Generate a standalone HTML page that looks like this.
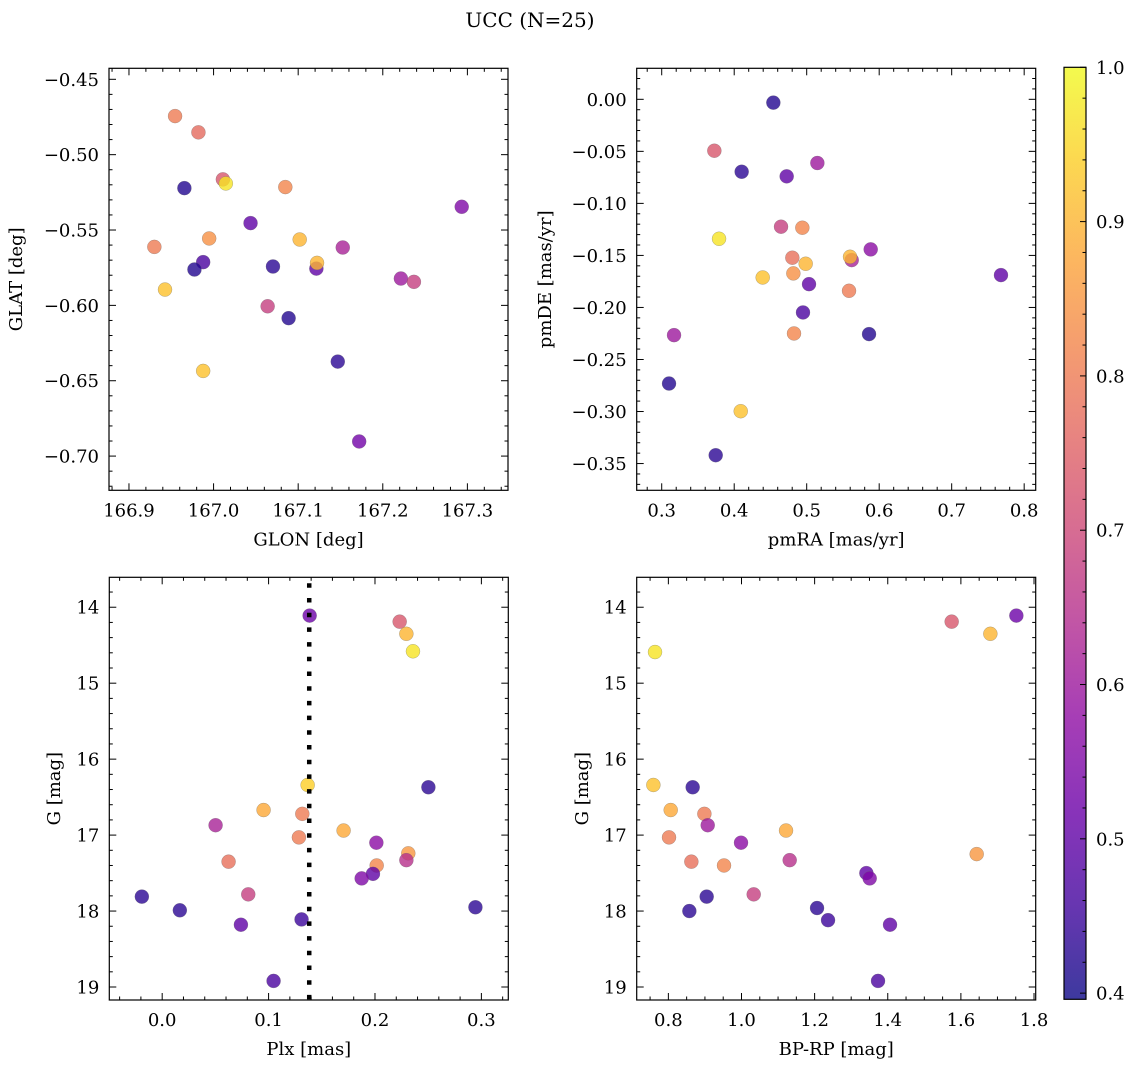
<!DOCTYPE html>
<html><head><meta charset="utf-8"><style>
html,body{margin:0;padding:0;background:#fff;}
svg{display:block;font-family:"DejaVu Serif","Liberation Serif",serif;}
</style></head><body>
<svg id="fig" width="1136" height="1067" viewBox="0 0 1136 1067" xmlns="http://www.w3.org/2000/svg">
<defs>
<linearGradient id="cbgrad" x1="0" y1="1" x2="0" y2="0"></linearGradient>
</defs>
<text x="530" y="27" text-anchor="middle" style="font-size:20px" fill="#000">UCC (N=25)</text>
</svg>
<script>
// ---- data ----
const glon = [166.9545,166.9821,166.9655,167.011,167.0145,167.0848,167.2933,167.0437,166.9948,166.930,167.1018,167.1527,166.9877,166.9774,167.0702,167.1215,167.1223,166.9426,167.2214,167.2368,167.0639,167.0887,167.1468,166.9877,167.1721];
const glat = [-0.4744,-0.4852,-0.5222,-0.5164,-0.5191,-0.5215,-0.5346,-0.5454,-0.5556,-0.5612,-0.5563,-0.5616,-0.5713,-0.5762,-0.5742,-0.5756,-0.5718,-0.5895,-0.5822,-0.5844,-0.6006,-0.6085,-0.6373,-0.6435,-0.6903];
const probA = [0.80,0.77,0.42,0.73,0.97,0.82,0.55,0.50,0.84,0.80,0.90,0.62,0.47,0.42,0.43,0.50,0.90,0.92,0.60,0.68,0.68,0.42,0.43,0.92,0.53];

const pmra = [0.4540,0.3726,0.4103,0.4724,0.5147,0.4646,0.4940,0.3791,0.4802,0.4986,0.5621,0.5598,0.5883,0.4393,0.4816,0.5032,0.5584,0.7680,0.4949,0.4825,0.5860,0.3170,0.3101,0.4090,0.3745];
const pmde = [-0.0032,-0.0494,-0.0696,-0.0740,-0.0612,-0.1224,-0.1234,-0.1340,-0.1522,-0.1580,-0.1545,-0.1513,-0.1442,-0.1712,-0.1673,-0.1776,-0.1840,-0.1689,-0.2048,-0.2250,-0.2256,-0.2266,-0.2731,-0.2997,-0.3420];
const probB = [0.42,0.73,0.43,0.50,0.60,0.68,0.82,0.97,0.78,0.90,0.62,0.90,0.57,0.92,0.84,0.50,0.80,0.50,0.47,0.82,0.42,0.60,0.42,0.92,0.43];

const plx = [0.1386,0.2232,0.2295,0.2357,0.1367,0.2502,0.0953,0.1317,0.0502,0.1705,0.1285,0.2013,0.2313,0.2295,0.0624,0.2016,0.1981,0.1875,-0.0191,0.0809,0.0166,0.2944,0.1310,0.0740,0.1047];
const gmagC = [14.11,14.19,14.35,14.58,16.34,16.37,16.67,16.72,16.87,16.94,17.03,17.10,17.24,17.33,17.35,17.40,17.51,17.57,17.81,17.78,17.99,17.95,18.11,18.18,18.92];
const probC = [0.52,0.73,0.90,0.97,0.94,0.43,0.88,0.80,0.62,0.88,0.80,0.57,0.85,0.65,0.78,0.82,0.50,0.55,0.43,0.68,0.43,0.43,0.45,0.50,0.47];
const plxMedian = 0.1382;

const bprp = [1.7517,1.5748,1.6806,0.7635,0.7590,0.8665,0.8064,0.8985,0.9076,1.1218,0.8018,0.9987,1.6432,1.1318,0.8629,0.9522,1.3415,1.3506,0.9048,1.0334,0.8574,1.2066,1.2367,1.4062,1.3734];
const gmagD = [14.11,14.19,14.35,14.59,16.34,16.37,16.67,16.72,16.87,16.94,17.03,17.10,17.25,17.33,17.35,17.40,17.50,17.57,17.81,17.78,18.00,17.96,18.12,18.18,18.92];
const probD = [0.52,0.73,0.90,0.97,0.92,0.43,0.88,0.80,0.60,0.88,0.80,0.57,0.85,0.65,0.78,0.82,0.50,0.55,0.43,0.68,0.43,0.43,0.45,0.50,0.47];

const ticksA_x = [166.9,167.0,167.1,167.2,167.3], ticksA_xl = ["166.9","167.0","167.1","167.2","167.3"];
const ticksA_y = [-0.45,-0.50,-0.55,-0.60,-0.65,-0.70], ticksA_yl = ["−0.45","−0.50","−0.55","−0.60","−0.65","−0.70"];
const ticksB_x = [0.3,0.4,0.5,0.6,0.7,0.8], ticksB_xl = ["0.3","0.4","0.5","0.6","0.7","0.8"];
const ticksB_y = [0,-0.05,-0.10,-0.15,-0.20,-0.25,-0.30,-0.35], ticksB_yl = ["0.00","−0.05","−0.10","−0.15","−0.20","−0.25","−0.30","−0.35"];
const ticksC_x = [0.0,0.1,0.2,0.3], ticksC_xl = ["0.0","0.1","0.2","0.3"];
const ticksG = [14,15,16,17,18,19], ticksG_l = ["14","15","16","17","18","19"];
const ticksD_x = [0.8,1.0,1.2,1.4,1.6,1.8], ticksD_xl = ["0.8","1.0","1.2","1.4","1.6","1.8"];
const cbTicks = [0.4,0.5,0.6,0.7,0.8,0.9,1.0], cbTickLabels = ["0.4","0.5","0.6","0.7","0.8","0.9","1.0"];

// ---- rendering ----
const NS = "http://www.w3.org/2000/svg";
const svg = document.getElementById('fig');
const FS = 'font-size:18px';
function mk(tag, attrs, parent){ const e=document.createElementNS(NS,tag); for(const k in attrs) e.setAttribute(k,attrs[k]); (parent||svg).appendChild(e); return e; }
const plasma = ["#0d0887","#41049d","#6a00a8","#8f0da4","#b12a90","#cc4778","#e16462","#f2844b","#fca636","#fcce25","#f0f921"];
function hex(h){return [parseInt(h.slice(1,3),16),parseInt(h.slice(3,5),16),parseInt(h.slice(5,7),16)];}
const VMIN=0.396, VMAX=1.0;
function cmap(p){ let t=(p-VMIN)/(VMAX-VMIN); t=Math.max(0,Math.min(1,t)); const s=t*10, i=Math.min(9,Math.floor(s)), f=s-i;
  const a=hex(plasma[i]), b=hex(plasma[i+1]); return "rgb("+a.map((v,k)=>Math.round(v+(b[k]-v)*f)).join(",")+")"; }

function panel(cfg){
  const g = mk('g',{});
  
  
  const sx = v => cfg.x0 + (v-cfg.xmin)/(cfg.xmax-cfg.xmin)*(cfg.x1-cfg.x0);
  const sy = v => cfg.yinv ? cfg.y0 + (v-cfg.ymin)/(cfg.ymax-cfg.ymin)*(cfg.y1-cfg.y0)
                           : cfg.y1 - (v-cfg.ymin)/(cfg.ymax-cfg.ymin)*(cfg.y1-cfg.y0);
  const tg = mk('g',{stroke:'#000','stroke-width':1},g);
  
  
  const lo=Math.min(cfg.xmin,cfg.xmax), hi=Math.max(cfg.xmin,cfg.xmax);
  for(let k=Math.ceil(lo/cfg.xminor-1e-6); k*cfg.xminor<=hi+1e-9; k++){
    const v=k*cfg.xminor, X=sx(v); if(X<cfg.x0-0.5||X>cfg.x1+0.5) continue;
    const maj = cfg.xt.some(t=>Math.abs(t-v)<cfg.xminor/10); const L=maj?7:3.5;
    mk('line',{x1:X,x2:X,y1:cfg.y1,y2:cfg.y1-L},tg); mk('line',{x1:X,x2:X,y1:cfg.y0,y2:cfg.y0+L},tg);
  }
  const ylo=Math.min(cfg.ymin,cfg.ymax), yhi=Math.max(cfg.ymin,cfg.ymax);
  for(let k=Math.ceil(ylo/cfg.yminor-1e-6); k*cfg.yminor<=yhi+1e-9; k++){
    const v=k*cfg.yminor, Y=sy(v); if(Y<cfg.y0-0.5||Y>cfg.y1+0.5) continue;
    const maj = cfg.yt.some(t=>Math.abs(t-v)<cfg.yminor/10); const L=maj?7:3.5;
    mk('line',{x1:cfg.x0,x2:cfg.x0+L,y1:Y,y2:Y},tg); mk('line',{x1:cfg.x1,x2:cfg.x1-L,y1:Y,y2:Y},tg);
  }
  cfg.xt.forEach((v,i)=>{ const t=mk('text',{x:sx(v),y:cfg.y1+26,'text-anchor':'middle',style:FS},g); t.textContent=cfg.xl[i];
    
     });
  cfg.yt.forEach((v,i)=>{ const t=mk('text',{x:cfg.x0-10,y:sy(v)+6.5,'text-anchor':'end',style:FS},g); t.textContent=cfg.yl[i];
    
     });
  const xt=mk('text',{x:(cfg.x0+cfg.x1)/2,y:cfg.y1+55,'text-anchor':'middle',style:FS},g); xt.textContent=cfg.xlabel;
  
  
  const yx=cfg.ylabx, yy=(cfg.y0+cfg.y1)/2;
  const yt=mk('text',{x:yx,y:yy,'text-anchor':'middle',style:FS,transform:'rotate(-90 '+yx+' '+yy+')'},g); yt.textContent=cfg.ylabel;
  
  
  const cid='clip-'+cfg.name; const cp=mk('clipPath',{id:cid},g); mk('rect',{x:cfg.x0,y:cfg.y0,width:cfg.x1-cfg.x0,height:cfg.y1-cfg.y0},cp);
  const pg=mk('g',{'clip-path':'url(#'+cid+')'},g);
  
  
  cfg.xs.forEach((v,i)=>{
    const c=mk('circle',{cx:sx(v),cy:sy(cfg.ys[i]),r:7,fill:cmap(cfg.ps[i]),'fill-opacity':0.8,stroke:'#666','stroke-opacity':0.5,'stroke-width':0.5},pg);
    
    
  });
  if(cfg.vline!==undefined){
    const l2=mk('line',{x1:sx(cfg.vline),x2:sx(cfg.vline),y1:cfg.y0,y2:cfg.y1,stroke:'#000','stroke-width':4.5,'stroke-dasharray':'4.5 10.2','stroke-dashoffset':'-6'},pg);
    
    
  }
  const fr=mk('rect',{x:cfg.x0,y:cfg.y0,width:cfg.x1-cfg.x0,height:cfg.y1-cfg.y0,fill:'none',stroke:'#000','stroke-width':1.2},g);
  
  
}

panel({name:'glon-glat-panel',x0:109,x1:508,y0:68.3,y1:490.3,xmin:166.8764,xmax:167.348,ymin:-0.7227,ymax:-0.4427,
  xt:ticksA_x,xl:ticksA_xl,yt:ticksA_y,yl:ticksA_yl,xminor:0.02,yminor:0.01,xlabel:'GLON [deg]',ylabel:'GLAT [deg]',ylabx:22,
  xs:glon,ys:glat,ps:probA});
panel({name:'pm-panel',x0:636.7,x1:1035.7,y0:68.3,y1:490.3,xmin:0.2655,xmax:0.8159,ymin:-0.3757,ymax:0.0298,
  xt:ticksB_x,xl:ticksB_xl,yt:ticksB_y,yl:ticksB_yl,xminor:0.02,yminor:0.01,xlabel:'pmRA [mas/yr]',ylabel:'pmDE [mas/yr]',ylabx:551,
  xs:pmra,ys:pmde,ps:probB});
panel({name:'plx-g-panel',x0:109.3,x1:508.3,y0:577.3,y1:1000,xmin:-0.0497,xmax:0.3253,ymin:13.606,ymax:19.171,yinv:true,
  xt:ticksC_x,xl:ticksC_xl,yt:ticksG,yl:ticksG_l,xminor:0.02,yminor:0.2,xlabel:'Plx [mas]',ylabel:'G [mag]',ylabx:60,
  xs:plx,ys:gmagC,ps:probC,vline:plxMedian});
panel({name:'cmd-panel',x0:636.7,x1:1035.7,y0:577.3,y1:1000,xmin:0.7134,xmax:1.8046,ymin:13.606,ymax:19.171,yinv:true,
  xt:ticksD_x,xl:ticksD_xl,yt:ticksG,yl:ticksG_l,xminor:0.05,yminor:0.2,xlabel:'BP-RP [mag]',ylabel:'G [mag]',ylabx:588,
  xs:bprp,ys:gmagD,ps:probD});

// colorbar
const grad=document.getElementById('cbgrad');
for(let i=0;i<=20;i++){ const p=VMIN+(VMAX-VMIN)*i/20; mk('stop',{offset:(i/20),'stop-color':cmap(p),'stop-opacity':0.8},grad); }
const cbx0=1064, cbx1=1086, cby0=67.3, cby1=999.3;
const cg=mk('g',{});  
mk('rect',{x:cbx0,y:cby0,width:cbx1-cbx0,height:cby1-cby0,fill:'url(#cbgrad)'},cg);
const cy = v => cby1 - (v-VMIN)/(VMAX-VMIN)*(cby1-cby0);
for(let k=20;k<=50;k++){ const v=k*0.02; if(v<VMIN-1e-9) continue; const Y=cy(v); const maj=Math.abs(v*10-Math.round(v*10))<1e-6;
  mk('line',{x1:cbx1,x2:cbx1-(maj?6:3.5),y1:Y,y2:Y,stroke:'#000','stroke-width':1},cg); }
cbTicks.forEach((v,i)=>{ const t=mk('text',{x:cbx1+10,y:cy(v)+6.5,style:FS},cg); t.textContent=cbTickLabels[i];
  
   });
mk('rect',{x:cbx0,y:cby0,width:cbx1-cbx0,height:cby1-cby0,fill:'none',stroke:'#000','stroke-width':1.2},cg);
</script>
</body></html>
